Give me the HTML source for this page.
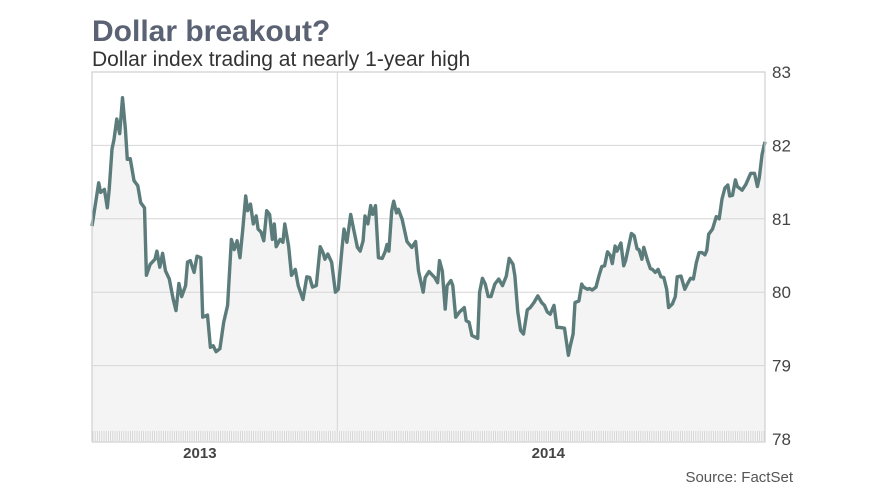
<!DOCTYPE html>
<html><head><meta charset="utf-8"><style>
body{margin:0;background:#fff;}
svg{display:block;font-family:"Liberation Sans",sans-serif;}
</style></head><body>
<svg width="880" height="495" viewBox="0 0 880 495">
<text x="92" y="41" font-size="30" font-weight="bold" fill="#5a6274">Dollar breakout?</text>
<text x="92" y="66" font-size="21" fill="#333">Dollar index trading at nearly 1-year high</text>
<g id="grid"></g>
<g id="plot"></g>
<g id="axes"></g>
<text x="793" y="482" font-size="15" fill="#555" text-anchor="end">Source: FactSet</text>
</svg>
<script>
const days=[0,7,9,13,16,18,21,23,26,29,32,35,37,40,44,48,51,55,57,61,66,68,71,74,77,81,85,88,91,94,98,100,103,107,110,114,116,121,124,127,130,134,138,142,146,149,152,155,158,161,163,166,169,172,174,177,180,183,186,189,191,193,197,200,202,206,209,213,216,221,225,228,231,235,239,242,244,247,251,255,258,262,264,267,271,274,278,281,284,286,289,292,294,297,300,304,307,309,311,314,316,319,321,325,330,335,339,342,347,349,353,359,362,364,367,370,372,376,378,381,385,390,392,395,398,404,406,409,412,415,418,422,426,430,434,437,441,443,446,449,452,456,459,463,467,471,474,477,480,484,487,490,495,499,501,504,506,510,513,515,519,521,524,528,531,534,537,540,543,545,548,550,554,557,559,565,568,571,573,576,578,582,585,587,590,593,596,599,602,604,608,611,613,617,621,624,627,630,633,636,639,642,644,646,650,654,657,660,663,666,668,671,674,676,681,685,690,694,697,699,702,705];
const values=[80.90,81.49,81.36,81.40,81.15,81.40,81.95,82.08,82.36,82.16,82.65,82.22,81.81,81.82,81.52,81.45,81.22,81.15,80.23,80.38,80.45,80.56,80.34,80.53,80.29,80.18,79.91,79.75,80.12,79.94,80.09,80.41,80.43,80.27,80.49,80.47,79.66,79.69,79.25,79.27,79.19,79.23,79.59,79.82,80.72,80.58,80.70,80.47,80.86,81.31,81.11,81.20,80.93,81.04,80.86,80.82,80.70,81.11,81.06,80.72,80.93,80.62,80.72,80.68,80.93,80.63,80.23,80.31,80.09,79.90,80.21,80.20,80.07,80.09,80.62,80.54,80.45,80.52,80.41,80.00,80.04,80.61,80.86,80.68,81.06,80.86,80.61,80.56,80.70,81.04,80.93,81.18,81.06,81.18,80.47,80.46,80.55,80.65,80.56,81.11,81.24,81.08,81.13,80.99,80.69,80.61,80.69,80.29,80.00,80.20,80.28,80.20,80.13,80.43,80.29,79.77,80.09,80.16,80.09,79.66,79.73,79.79,79.61,79.59,79.41,79.37,80.00,80.19,80.11,79.94,79.94,80.11,80.18,80.09,80.22,80.46,80.38,80.22,79.73,79.48,79.43,79.76,79.79,79.86,79.95,79.86,79.82,79.73,79.70,79.82,79.52,79.52,79.51,79.14,79.27,79.43,79.86,79.88,80.11,80.07,80.04,80.05,80.03,80.07,80.22,80.35,80.36,80.55,80.50,80.39,80.63,80.56,80.67,80.36,80.43,80.80,80.77,80.59,80.58,80.45,80.61,80.43,80.32,80.31,80.27,80.31,80.21,80.20,80.04,79.79,79.84,79.94,80.21,80.22,80.04,80.12,80.19,80.18,80.40,80.54,80.54,80.51,80.57,80.79,80.86,81.03,81.00,81.27,81.42,81.46,81.31,81.32,81.53,81.44,81.39,81.47,81.62,81.62,81.44,81.56,81.88,82.05];
const yTicks=[78,79,80,81,82,83];
const xLabels=["2013","2014"];
const xLabelDays=[113,478];
const gridDays=[257];

const X0=92,X1=765,Y0=439,Y1=72,DMIN=0,DMAX=705,VMIN=78,VMAX=83;
const sx=d=>X0+(d-DMIN)/(DMAX-DMIN)*(X1-X0);
const sy=v=>Y0-(v-VMIN)/(VMAX-VMIN)*(Y0-Y1);
const NS="http://www.w3.org/2000/svg";
function mk(tag,attrs,parent){const e=document.createElementNS(NS,tag);for(const k in attrs)e.setAttribute(k,attrs[k]);parent.appendChild(e);return e;}
const grid=document.getElementById('grid'),plot=document.getElementById('plot'),axes=document.getElementById('axes');

yTicks.forEach(t=>{
  const tx=mk('text',{x:772,y:sy(t)+6,'font-size':17,fill:'#444'},axes);
  tx.textContent=t;
  
  
});
let pts=days.map((d,i)=>sx(d).toFixed(1)+','+sy(values[i]).toFixed(1));
const area=mk('path',{d:'M'+sx(days[0])+','+Y0+' L'+pts.join(' L')+' L'+sx(days[days.length-1])+','+Y0+' Z',fill:'#f4f4f4'},plot);


yTicks.forEach(t=>{
  const l=mk('line',{x1:X0,x2:X1,y1:sy(t),y2:sy(t),stroke:'#d6d6d6','stroke-width':1},plot);
  
  
});
gridDays.forEach(d=>{
  const l=mk('line',{x1:sx(d),x2:sx(d),y1:Y1,y2:442,stroke:'#d6d6d6','stroke-width':1},plot);
  
  
});
const ts=mk('rect',{x:X0,y:431,width:X1-X0,height:11,fill:'#f6f6f6'},plot);


let tp='';
for(let x=X0+1;x<X1;x+=2.2){tp+='M'+x.toFixed(1)+',431 V441 ';}
mk('path',{d:tp,stroke:'#d0d0d0','stroke-width':0.8},plot);
const line=mk('polyline',{points:pts.join(' '),fill:'none',stroke:'#5b7c7a','stroke-width':3.4,'stroke-linejoin':'round'},plot);


const fr=mk('path',{d:`M${X0},442 V${Y1} H${X1} V442 H${X0}`,fill:'none',stroke:'#cfd0d4','stroke-width':1.2},axes);


xLabels.forEach((s,i)=>{
  const t=mk('text',{x:sx(xLabelDays[i]),y:458,'font-size':15,'font-weight':'bold',fill:'#444','text-anchor':'middle'},axes);
  t.textContent=s;
  
  
});
</script>
</body></html>
